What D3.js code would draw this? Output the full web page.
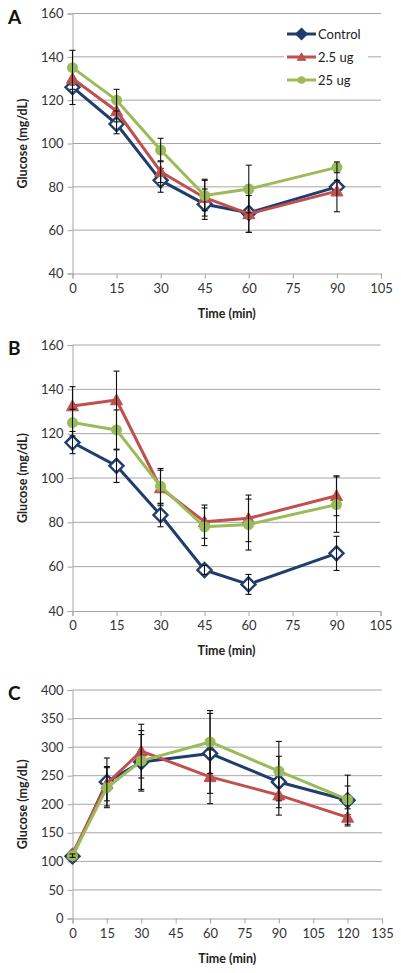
<!DOCTYPE html>
<html><head><meta charset="utf-8">
<script src="https://cdn.jsdelivr.net/npm/d3@7"></script>
<style>
html,body{margin:0;padding:0;background:#fff;}
svg{display:block;}
text{font-family:Lato,"Open Sans",sans-serif;}
</style></head>
<body><svg id="c" width="401" height="973"></svg>
<script>
// ---- data ----
const seriesNames = ["Control", "2.5 ug", "25 ug"];
const timesAB = [0, 15, 30, 45, 60, 90];
const timesC = [0, 15, 30, 60, 90, 120];

const A_control = [126, 109, 83, 72, 68, 80];
const A_control_err = [8, 4.5, 5.5, 7, 9, 3];
const A_low = [130, 115, 87, 75, 67.5, 78];
const A_low_err = [5, 5, 5, 8.5, 8.5, 9.5];
const A_high = [135, 120, 97, 76, 79, 89];
const A_high_err = [8, 5, 5.4, 7, 11, 2.5];

const B_control = [116, 105.5, 83.3, 58.5, 52, 66];
const B_control_err = [5, 7.5, 5.3, 2, 4.5, 7.7];
const B_low = [132.5, 135.2, 95.5, 80.3, 81.8, 92];
const B_low_err = [8.7, 13, 8, 7.5, 10.5, 9];
const B_high = [125, 121.7, 96.3, 78, 79, 88];
const B_high_err = [6, 9, 8, 8.5, 11.5, 12.5];

const C_control = [109, 239, 274, 289, 239, 207];
const C_control_err = [3, 42, 48, 70, 45, 25];
const C_low = [113, 236, 293, 248, 216, 177];
const C_low_err = [3, 30, 47, 47, 35, 15];
const C_high = [110, 229, 276, 309, 258, 208];
const C_high_err = [3, 35, 53, 55, 52, 43];

const xTicksAB = [0, 15, 30, 45, 60, 75, 90, 105];
const xTicksC = [0, 15, 30, 45, 60, 75, 90, 105, 120, 135];
const yTicksAB = [40, 60, 80, 100, 120, 140, 160];
const yTicksC = [0, 50, 100, 150, 200, 250, 300, 350, 400];

const colors = ["#203E6B", "#C0504D", "#9BBB59"];

const svg = d3.select("#c");

function panel(cfg) {
  const g = svg.append("g");
  const x = d3.scaleLinear().domain(cfg.xDomain).range([cfg.left, cfg.right]);
  const y = d3.scaleLinear().domain(cfg.yDomain).range([cfg.bottom, cfg.top]);

  // gridlines
  g.append("g").selectAll("line").data(cfg.yTicks.filter(t => t !== cfg.yDomain[0])).join("line")
    .attr("x1", cfg.left).attr("x2", cfg.right)
    .attr("y1", d => y(d)).attr("y2", d => y(d))
    .attr("stroke", "#A6A6A6").attr("stroke-width", 1);

  // y axis
  const ya = g.append("g").attr("transform", `translate(${cfg.left},0)`)
    .call(d3.axisLeft(y).tickValues(cfg.yTicks).tickSize(5).tickPadding(4));
  ya.select(".domain").attr("stroke", "#A6A6A6");
  ya.selectAll(".tick line").attr("stroke", "#A6A6A6");
  ya.selectAll("text").attr("font-size", 13).attr("fill", "#333").attr("font-family", "Lato");

  // x axis
  const xa = g.append("g").attr("transform", `translate(0,${cfg.bottom})`)
    .call(d3.axisBottom(x).tickValues(cfg.xTicks).tickSize(5).tickPadding(5));
  xa.select(".domain").attr("stroke", "#A6A6A6");
  xa.selectAll(".tick line").attr("stroke", "#A6A6A6");
  xa.selectAll("text").attr("font-size", 13).attr("fill", "#333").attr("font-family", "Lato");

  // axis titles
  g.append("text").attr("x", (cfg.left + cfg.right) / 2).attr("y", cfg.bottom + 44)
    .attr("text-anchor", "middle").attr("font-size", 12.5).attr("font-weight", "bold")
    .attr("fill", "#222").text("Time (min)");
  g.append("text").attr("transform", `translate(${cfg.ytX},${(cfg.top + cfg.bottom) / 2}) rotate(-90)`)
    .attr("text-anchor", "middle").attr("font-size", 12.5).attr("font-weight", "bold")
    .attr("fill", "#222").text("Glucose (mg/dL)");

  // panel letter
  g.append("text").attr("x", 8).attr("y", cfg.top + 10).attr("font-size", 19).attr("font-weight", "bold")
    .attr("font-family", "Liberation Sans, Arial, sans-serif").attr("fill", "#111").text(cfg.letter);

  // legend (only A)
  if (cfg.legend) {
    const lx = 284, ly = [34, 57, 80];
    g.append("rect").attr("x", lx).attr("y", 22).attr("width", 84).attr("height", 70).attr("fill", "#fff");
    seriesNames.forEach((n, i) => {
      g.append("line").attr("x1", lx + 3).attr("x2", lx + 32).attr("y1", ly[i]).attr("y2", ly[i])
        .attr("stroke", colors[i]).attr("stroke-width", 3);
      drawMarker(g, i, lx + 17.5, ly[i], 0.7, true);
      g.append("text").attr("x", lx + 34).attr("y", ly[i]).attr("dy", "0.35em")
        .attr("font-size", 13).attr("fill", "#222").text(n);
    });
  }

  const line = d3.line().x(d => x(d.t)).y(d => y(d.v));
  cfg.series.forEach((s, i) => {
    const pts = cfg.times.map((t, k) => ({ t, v: s.v[k], e: s.e[k] }));
    g.append("path").datum(pts).attr("d", line).attr("fill", "none")
      .attr("stroke", colors[i]).attr("stroke-width", 3).attr("stroke-linejoin", "round");
    pts.forEach(p => drawMarker(g, i, x(p.t), y(p.v), 1, false));
    const eg = g.append("g").attr("stroke", "#111").attr("stroke-width", 1.1);
    pts.forEach(p => {
      const cx = x(p.t), y1 = y(p.v + p.e), y2 = y(p.v - p.e);
      eg.append("line").attr("x1", cx).attr("x2", cx).attr("y1", y1).attr("y2", y2);
      eg.append("line").attr("x1", cx - 3).attr("x2", cx + 3).attr("y1", y1).attr("y2", y1);
      eg.append("line").attr("x1", cx - 3).attr("x2", cx + 3).attr("y1", y2).attr("y2", y2);
    });
  });
}

function drawMarker(g, i, cx, cy, s, legend) {
  if (i === 0) {
    const r = 7 * s;
    g.append("path").attr("d", `M${cx},${cy - r}L${cx + r},${cy}L${cx},${cy + r}L${cx - r},${cy}Z`)
      .attr("fill", legend ? colors[0] : "#fff").attr("stroke", colors[0]).attr("stroke-width", 2.4);
  } else if (i === 1) {
    const r = 6 * s;
    g.append("path").attr("d", `M${cx},${cy - r}L${cx + r},${cy + r * 0.8}L${cx - r},${cy + r * 0.8}Z`)
      .attr("fill", colors[1]).attr("stroke", colors[1]).attr("stroke-width", 1);
  } else {
    g.append("circle").attr("cx", cx).attr("cy", cy).attr("r", 5.5 * s).attr("fill", colors[2]);
  }
}

panel({
  letter: "A", legend: true, left: 72.5, right: 381, top: 13.5, bottom: 273.5, ytX: 27,
  xDomain: [0, 105], yDomain: [40, 160], xTicks: xTicksAB, yTicks: yTicksAB, times: timesAB,
  series: [{ v: A_control, e: A_control_err }, { v: A_low, e: A_low_err }, { v: A_high, e: A_high_err }]
});
panel({
  letter: "B", legend: false, left: 72.5, right: 380.5, top: 345, bottom: 611, ytX: 27,
  xDomain: [0, 105], yDomain: [40, 160], xTicks: xTicksAB, yTicks: yTicksAB, times: timesAB,
  series: [{ v: B_control, e: B_control_err }, { v: B_low, e: B_low_err }, { v: B_high, e: B_high_err }]
});
panel({
  letter: "C", legend: false, left: 72.5, right: 382, top: 690, bottom: 918.5, ytX: 27,
  xDomain: [0, 135], yDomain: [0, 400], xTicks: xTicksC, yTicks: yTicksC, times: timesC,
  series: [{ v: C_control, e: C_control_err }, { v: C_low, e: C_low_err }, { v: C_high, e: C_high_err }]
});
</script></body></html>
